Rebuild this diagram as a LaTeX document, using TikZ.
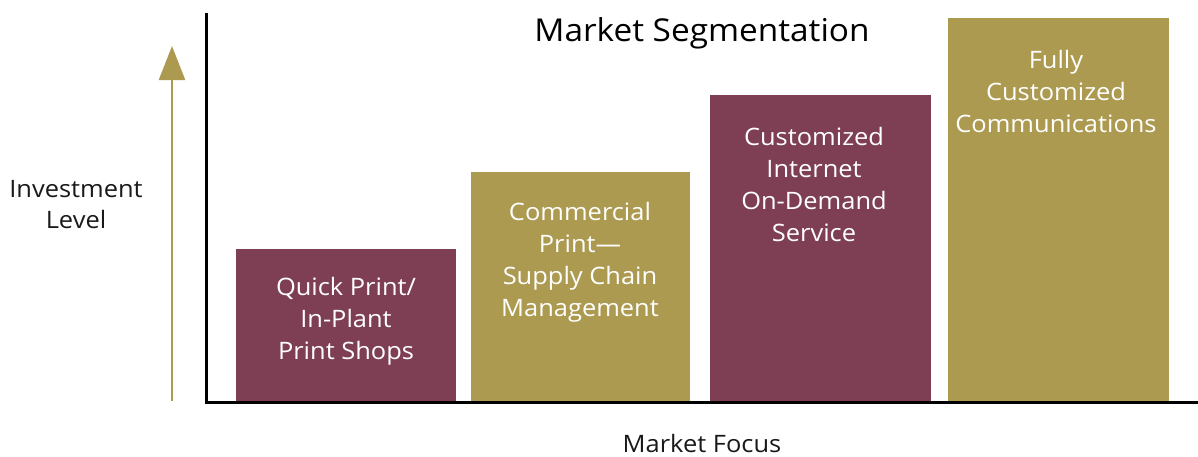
\documentclass[tikz,border=0pt]{standalone}
\usepackage{fontspec}
\setmainfont{Open Sans}[FakeStretch=1.06]
\usetikzlibrary{arrows.meta}
\definecolor{maroon}{HTML}{7E3F55}
\definecolor{gold}{HTML}{AD9A51}
\begin{document}
\begin{tikzpicture}[x=1pt,y=-1pt,
  bartext/.style={text=white,align=center,font=\fontsize{24}{32}\selectfont},
  axislabel/.style={font=\fontsize{24}{31}\selectfont,text=black!90},
  axisline/.style={line width=3pt}]
\useasboundingbox (0,0) rectangle (1198,456);
% bars
\fill[maroon] (236,249) rectangle (456,402);
\fill[gold]   (471,172) rectangle (690,402);
\fill[maroon] (710,95)  rectangle (931,402);
\fill[gold]   (948,18)  rectangle (1169,402);
% bar labels
\node[bartext] (t1) at (346,321) {Quick Print/\\In-Plant\\Print Shops};
\node[bartext] (t2) at (580,262) {Commercial\\Print—\\Supply Chain\\Management};
\node[bartext] (t3) at (814,184) {Customized\\Internet\\On-Demand\\Service};
\node[bartext] (t4) at (1056,91) {Fully\\Customized\\Communications};
% axes
\coordinate (o) at (206,402);
\coordinate (ytop) at (206,13);
\coordinate (xend) at (1198,402);
\draw[axisline] (ytop) -- (o) -- (xend);
% investment arrow
\coordinate (abot) at (172,401);
\coordinate (atop) at (172,46);
\draw[gold,line width=2.5pt,-{Triangle[width=26pt,length=34pt]}] (abot) -- (atop);
% titles
\node[font=\fontsize{31.5}{36}\selectfont] (title) at (702,33) {Market Segmentation};
\node[axislabel,align=center] (ylab) at (76,205) {Investment\\Level};
\node[axislabel,inner sep=0pt,anchor=base] (xlab) at (702,452) {Market Focus};
\end{tikzpicture}
\end{document}
